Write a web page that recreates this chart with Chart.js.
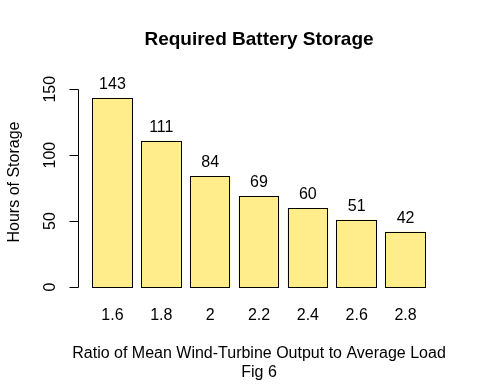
<!DOCTYPE html>
<html>
<head>
<meta charset="utf-8">
<script src="https://cdn.jsdelivr.net/npm/chart.js@4.4.1/dist/chart.umd.min.js"></script>
<style>
  html, body { margin: 0; padding: 0; background: #fff; }
</style>
</head>
<body>
<canvas id="storageChart" width="480" height="384"></canvas>
<script>
// data
const ratios = ['1.6', '1.8', '2', '2.2', '2.4', '2.6', '2.8'];
const hours = [143, 111, 84, 69, 60, 51, 42];
const yTicks = [0, 50, 100, 150];
const mainTitle = 'Required Battery Storage';
const yTitle = 'Hours of Storage';
const xTitle = ['Ratio of Mean Wind-Turbine Output to Average Load', 'Fig 6'];

const font = '"Liberation Sans", Arial, sans-serif';
const ink = '#000';

// R-style y axis (line + ticks + rotated labels), titles, crisp bar outlines and bar values
const rAxisPlugin = {
  id: 'rAxis',
  afterDatasetsDraw(chart) {
    const ctx = chart.ctx;
    ctx.save();
    ctx.strokeStyle = ink;
    ctx.lineWidth = 1;
    chart.getDatasetMeta(0).data.forEach(bar => {
      const l = Math.round(bar.x - bar.width / 2) + 0.5;
      const r = Math.round(bar.x + bar.width / 2) - 0.5;
      const t = Math.round(bar.y) + 0.5;
      const b = Math.round(bar.base) + 0.5;
      ctx.strokeRect(l, t, r - l, b - t);
    });
    ctx.restore();
  },
  afterDraw(chart) {
    const ctx = chart.ctx;
    const y = chart.scales.y;
    const area = chart.chartArea;
    const cx = (area.left + area.right) / 2;
    const ax = 78.5;
    ctx.save();
    ctx.strokeStyle = ink;
    ctx.lineWidth = 1;
    ctx.beginPath();
    ctx.moveTo(ax, Math.round(y.getPixelForValue(yTicks[0])) + 0.5);
    ctx.lineTo(ax, Math.round(y.getPixelForValue(yTicks[yTicks.length - 1])) + 0.5);
    yTicks.forEach(v => {
      const py = Math.round(y.getPixelForValue(v)) + 0.5;
      ctx.moveTo(ax, py);
      ctx.lineTo(69.5, py);
    });
    ctx.stroke();

    ctx.fillStyle = ink;
    ctx.textAlign = 'center';
    ctx.textBaseline = 'middle';

    // main title
    ctx.font = 'bold 19px ' + font;
    ctx.fillText(mainTitle, cx, 40);

    ctx.font = '16px ' + font;
    yTicks.forEach(v => {
      ctx.save();
      ctx.translate(51, y.getPixelForValue(v));
      ctx.rotate(-Math.PI / 2);
      ctx.fillText(String(v), 0, 0);
      ctx.restore();
    });

    ctx.save();
    ctx.translate(15, 182);
    ctx.rotate(-Math.PI / 2);
    ctx.fillText(yTitle, 0, 0);
    ctx.restore();

    // x axis title, two lines
    xTitle.forEach((line, i) => {
      ctx.fillText(line, cx, 354 + i * 18.5);
    });

    // values above bars
    ctx.textBaseline = 'alphabetic';
    chart.getDatasetMeta(0).data.forEach((bar, i) => {
      ctx.fillText(String(hours[i]), bar.x, bar.y - 9);
    });
    ctx.restore();
  }
};

new Chart(document.getElementById('storageChart'), {
  type: 'bar',
  data: {
    labels: ratios,
    datasets: [{
      data: hours,
      backgroundColor: '#FFEC8B',
      borderWidth: 0,
      categoryPercentage: 1,
      barPercentage: 0.833
    }]
  },
  options: {
    responsive: false,
    animation: false,
    devicePixelRatio: 1,
    layout: { padding: { left: 0, right: 50, top: 77, bottom: 0 } },
    plugins: {
      legend: { display: false },
      tooltip: { enabled: false },
      title: { display: false }
    },
    scales: {
      x: {
        grid: { display: false, drawTicks: false },
        border: { display: false },
        ticks: { color: ink, font: { family: font, size: 16 }, padding: 19 },
        afterFit: s => { s.height = 97; }
      },
      y: {
        min: 0,
        max: 159.3,
        grid: { display: false, drawTicks: false },
        border: { display: false },
        ticks: { display: false },
        afterFit: s => { s.width = 88; }
      }
    }
  },
  plugins: [rAxisPlugin]
});
</script>
</body>
</html>
